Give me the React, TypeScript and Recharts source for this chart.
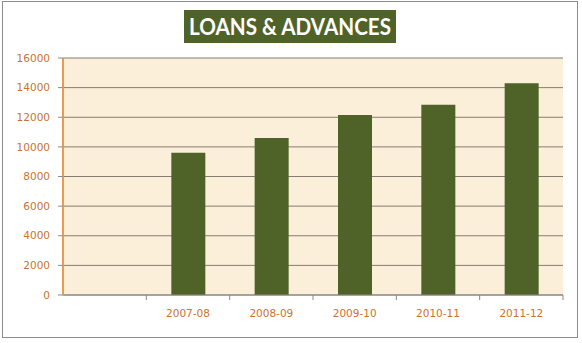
import { BarChart, Bar, XAxis, YAxis, CartesianGrid } from 'recharts';

const years = ['', '2007-08', '2008-09', '2009-10', '2010-11', '2011-12'];
const loans = [null, 9600, 10600, 12150, 12850, 14300];
const yTicks = [0, 2000, 4000, 6000, 8000, 10000, 12000, 14000, 16000];

const data = years.map((year, i) => ({ year, loans: loans[i] }));

const W = 582;
const H = 343;
const xAxisHeight = 30;
const margin = { top: 58, right: 19, left: 0, bottom: 48 - xAxisHeight };
const yAxisWidth = 63;
const bandHalf = (W - margin.right - yAxisWidth) / years.length / 2;

const labelColor = '#c8742f';

const XTick = ({ x, y, payload, index }: any) => {
  const left = x - bandHalf;
  const right = x + bandHalf;
  return (
    <g>
      {index > 0 && <line x1={left} x2={left} y1={y - 8} y2={y - 3} stroke="#8a8a8a" />}
      {index === years.length - 1 && (
        <line x1={right} x2={right} y1={y - 8} y2={y - 3} stroke="#8a8a8a" />
      )}
      <text
        x={x}
        y={y + 14}
        textAnchor="middle"
        fill={labelColor}
        fontSize={10.5}
        fontFamily="DejaVu Sans, Verdana, sans-serif"
      >
        {payload.value}
      </text>
    </g>
  );
};

export default function App() {
  return (
    <div style={{ position: 'fixed', left: 0, top: 0, width: W, height: H, background: '#fff' }}>
      <div
        style={{
          position: 'absolute',
          left: 2,
          top: 1,
          width: 576,
          height: 337,
          border: '1px solid #8c8c8c',
          boxSizing: 'border-box',
        }}
      />
      <svg style={{ position: 'absolute', left: 0, top: 0 }} width={W} height={52}>
        <rect x={184} y={10} width={212} height={33} fill="#4f6228" />
        <text
          x={290}
          y={35}
          textAnchor="middle"
          textLength={202}
          lengthAdjust="spacingAndGlyphs"
          fill="#fff"
          fontFamily="Lato, 'Open Sans', sans-serif"
          fontWeight={700}
          fontSize={22}
        >
          LOANS &amp; ADVANCES
        </text>
      </svg>
      <BarChart width={W} height={H} data={data} margin={margin}>
        <CartesianGrid vertical={false} stroke="#857d70" fill="#fbefd9" fillOpacity={1} />
        <XAxis
          dataKey="year"
          height={xAxisHeight}
          axisLine={{ stroke: '#8a8a8a' }}
          tickLine={false}
          tick={<XTick />}
          interval={0}
        />
        <YAxis
          width={yAxisWidth}
          domain={[0, 16000]}
          ticks={yTicks}
          interval={0}
          axisLine={{ stroke: '#ec9a50', strokeWidth: 2 }}
          tickLine={{ stroke: '#8a8a8a' }}
          tickSize={5}
          tickMargin={8}
          tick={{ fill: labelColor, fontSize: 10.5, fontFamily: 'DejaVu Sans, Verdana, sans-serif' }}
        />
        <Bar dataKey="loans" fill="#4f6228" barSize={34} isAnimationActive={false} />
      </BarChart>
    </div>
  );
}
